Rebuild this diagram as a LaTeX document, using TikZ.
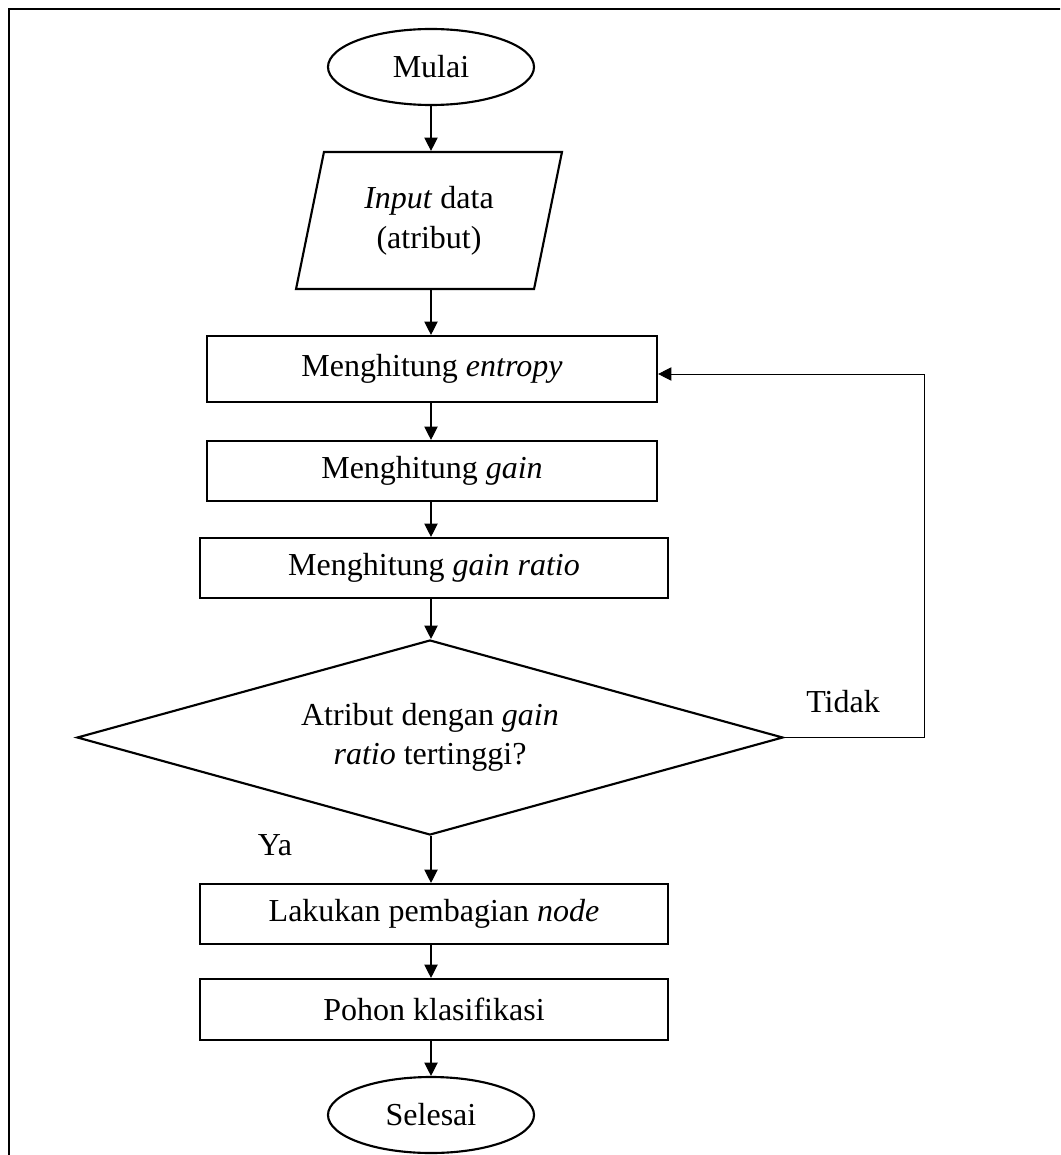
\documentclass[tikz,border=0pt]{standalone}
\usepackage{fontspec}
\setmainfont{Liberation Serif}
\usetikzlibrary{shapes.geometric,arrows.meta}
\begin{document}
\begin{tikzpicture}[x=0.75pt,y=-0.75pt,
  every node/.style={font=\fontsize{24}{29}\selectfont, inner sep=0pt},
  terminal/.style={draw, ellipse, line width=1.6pt, minimum width=154.5pt, minimum height=57pt},
  iobox/.style={draw, trapezium, trapezium left angle=76, trapezium right angle=104,
    trapezium stretches=true, line width=1.6pt, minimum width=199.5pt, minimum height=102.75pt,
    align=center, font=\fontsize{24}{30}\selectfont},
  procbox/.style={draw, rectangle, line width=1.6pt},
  decision/.style={draw, diamond, shape aspect=3.62, line width=1.6pt,
    minimum width=529.5pt, minimum height=146.25pt, align=center},
  flow/.style={-{Triangle[length=10pt,width=10pt]}, line width=0.9pt},
  loopline/.style={-{Triangle[length=10pt,width=10pt]}, line width=0.7pt},
]
\clip (0,0) rectangle (1060,1155);
% frame
\draw[line width=2pt] (9,1170) -- (9,9) -- (1075,9);

% flowchart nodes
\node[terminal] (mulai) at (431,67) {Mulai};
\node[iobox] (inp) at (429,220.5) {\textit{Input} data\\(atribut)};
\node[procbox, minimum width=337.5pt, minimum height=49.5pt] (ent) at (432,369) {Menghitung \textit{entropy}};
\node[procbox, minimum width=337.5pt, minimum height=45pt] (gain) at (432,471) {Menghitung \textit{gain}};
\node[procbox, minimum width=351pt, minimum height=45pt] (ratio) at (434,568) {Menghitung \textit{gain ratio}};
\node[decision] (dec) at (430,737.5) {Atribut dengan \textit{gain}\\\textit{ratio} tertinggi?};
\node[procbox, minimum width=351pt, minimum height=45pt] (split) at (434,914) {Lakukan pembagian \textit{node}};
\node[procbox, minimum width=351pt, minimum height=45.75pt] (tree) at (434,1009.5) {Pohon klasifikasi};
\node[terminal] (selesai) at (431,1115) {Selesai};

% branch labels
\node (tidak) at (843,702) {Tidak};
\node (ya) at (275,845) {Ya};

% connectors
\draw[flow] (mulai.south) -- (mulai.south |- inp.north);
\draw[flow] (mulai.south |- inp.south) -- (mulai.south |- ent.north);
\draw[flow] (mulai.south |- ent.south) -- (mulai.south |- gain.north);
\draw[flow] (mulai.south |- gain.south) -- (mulai.south |- ratio.north);
\draw[flow] (mulai.south |- ratio.south) -- (mulai.south |- dec.north);
\draw[flow] (mulai.south |- dec.south) -- (mulai.south |- split.north);
\draw[flow] (mulai.south |- split.south) -- (mulai.south |- tree.north);
\draw[flow] (mulai.south |- tree.south) -- (selesai.north);

% loop back for "Tidak"
\coordinate (lpa) at (924,737.5);
\coordinate (lpb) at (924,374);
\draw[loopline] (dec.east) -- (lpa) -- (lpb) -- (lpb -| ent.east);
\end{tikzpicture}
\end{document}
